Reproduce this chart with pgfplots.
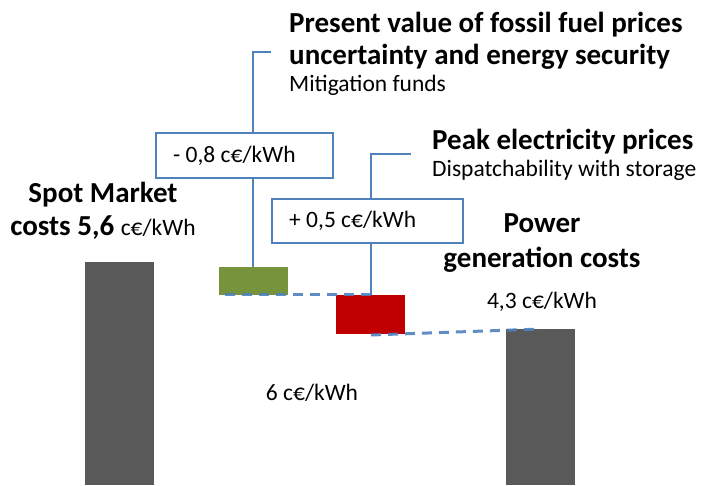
\documentclass[border=0pt]{standalone}
\usepackage{pgfplots}
\pgfplotsset{compat=1.18}
\usepackage{fontspec}
\setmainfont{Carlito}
\definecolor{bargray}{HTML}{595959}
\definecolor{bargreen}{HTML}{77933C}
\definecolor{barred}{HTML}{C00000}
\definecolor{lineblue}{HTML}{4F81BD}
\newcommand{\bt}{\fontsize{29}{32}\selectfont\bfseries}
\newcommand{\rt}{\fontsize{23.5}{27}\selectfont}
\begin{document}
\begin{tikzpicture}
\begin{axis}[
  width=701pt, height=485pt, scale only axis,
  xmin=0, xmax=701, ymin=0, ymax=485,
  hide axis, clip=false,
]
\path (axis cs:0,0) rectangle (axis cs:701,485);
% bars (floating waterfall)
\addplot[fill=bargray, draw=none] coordinates {(85,0) (154,0) (154,223) (85,223)} -- cycle;
\addplot[fill=bargreen, draw=none] coordinates {(219,190) (288,190) (288,218) (219,218)} -- cycle;
\addplot[fill=barred, draw=none] coordinates {(336,151) (405,151) (405,190) (336,190)} -- cycle;
\addplot[fill=bargray, draw=none] coordinates {(506,0) (575,0) (575,156) (506,156)} -- cycle;
% connectors
\addplot[lineblue, line width=3pt, dash pattern=on 10pt off 7pt, opacity=0.9] coordinates {(225,190) (377,190)};
\addplot[lineblue, line width=3pt, dash pattern=on 10pt off 7pt, opacity=0.9] coordinates {(371,150) (541,156)};
% callout lines
\addplot[lineblue, line width=2pt] coordinates {(271,432.5) (253,432.5) (253,218)};
\addplot[lineblue, line width=2pt] coordinates {(411,331) (371,331) (371,190)};
% boxes
\draw[lineblue, line width=2pt, fill=white] (axis cs:156,307) rectangle (axis cs:333,352);
\draw[lineblue, line width=2pt, fill=white] (axis cs:272,242) rectangle (axis cs:463,286);
\node[anchor=base west, inner sep=0] at (axis cs:173,322) {\rt - 0,8 c€/kWh};
\node[anchor=base west, inner sep=0] at (axis cs:289,257) {\rt + 0,5 c€/kWh};
% titles
\node[anchor=base west, inner sep=0] at (axis cs:289,452) {\bt Present value of fossil fuel prices};
\node[anchor=base west, inner sep=0] at (axis cs:289,420) {\bt uncertainty and energy security};
\node[anchor=base west, inner sep=0] at (axis cs:289,393) {\rt Mitigation funds};
\node[anchor=base west, inner sep=0] at (axis cs:432,335) {\bt Peak electricity prices};
\node[anchor=base west, inner sep=0] at (axis cs:432,308) {\rt Dispatchability with storage};
\node[anchor=base, inner sep=0] at (axis cs:103,282) {\bt Spot Market};
\node[anchor=base, inner sep=0] at (axis cs:103,249.5) {\bt costs 5,6 {\rt\mdseries c€/kWh}};
\node[anchor=base, inner sep=0] at (axis cs:542,252) {\bt Power};
\node[anchor=base, inner sep=0] at (axis cs:542,217) {\bt generation costs};
\node[anchor=base, inner sep=0] at (axis cs:542,177) {\rt 4,3 c€/kWh};
\node[anchor=base, inner sep=0] at (axis cs:312,85) {\rt 6 c€/kWh};
\end{axis}
\end{tikzpicture}
\end{document}
